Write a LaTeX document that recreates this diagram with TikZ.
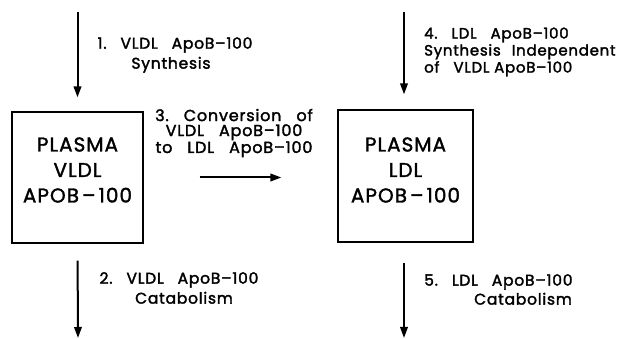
\documentclass[tikz,border=0pt]{standalone}
\usepackage{fontspec}
\setmainfont{Poppins}
\newfontfamily\labfont[LetterSpace=5,FakeBold=2]{Poppins}
\newfontfamily\boxfont[LetterSpace=5,FakeBold=1.6]{Poppins}
\newcommand\wg{\hspace{14pt}}
\newcommand\bdash{\hspace{3pt}–\hspace{3pt}}
\usetikzlibrary{arrows.meta}
\begin{document}
\begin{tikzpicture}[x=1pt,y=-1pt,
  arr/.style={line width=2pt,-{Triangle[length=11pt,width=7.5pt]}},
  box/.style={draw,line width=1.2pt,inner sep=0pt},
  boxtext/.style={align=center,inner sep=0pt,font=\boxfont\fontsize{20}{25.5}\selectfont},
  lab/.style={inner sep=0pt,font=\labfont\fontsize{15.5}{20}\selectfont}]
\useasboundingbox (0,0) rectangle (619,339);
% boxes
\node[box,minimum width=131pt,minimum height=131pt] (vb) at (77.5,177.5) {};
\node[boxtext] (vbt) at (77.5,170) {PLASMA\\VLDL\\APOB\bdash100};
\node[box,minimum width=135pt,minimum height=132pt] (lb) at (405.5,176) {};
\node[boxtext] (lbt) at (405.5,170) {PLASMA\\LDL\\APOB\bdash100};
% free ends
\coordinate (t1) at (77.5,12);
\coordinate (b2) at (78,338);
\coordinate (t4) at (404,12);
\coordinate (b5) at (404,338);
% arrows
\draw[arr,shorten >=14pt] (t1) -- (vb.north);
\draw[arr,shorten <=17pt] (vb.south) -- (b2);
\draw[arr,shorten >=15pt] (t4) -- (t4 |- lb.north);
\draw[arr,shorten <=20pt] (b5 |- lb.south) -- (b5);
\draw[arr,shorten <=56pt,shorten >=56pt] (vb.east) -- (vb.east -| lb.west);
% labels
\node[lab,align=center] (l1) at (175,55) {1.\wg VLDL\wg ApoB–100\\Synthesis\hspace*{8pt}};
\node[lab,align=center] (l2) at (179,288) {2.\wg VLDL\wg ApoB–100\\\hspace*{10pt}Catabolism};
\node[lab,align=center,font=\labfont\fontsize{16}{15}\selectfont] (l3) at (234,133) {3.\hspace{15pt}Conversion\hspace{15pt}of\\VLDL\hspace{15pt}ApoB–100\\to\hspace{15pt}LDL\hspace{15pt}ApoB–100};
\node[lab,align=left,anchor=west,font=\labfont\fontsize{15}{17}\selectfont] (l4) at (424,52) {4.\wg LDL\wg ApoB–100\\Synthesis\hspace{11pt}Independent\\of\wg VLDL ApoB–100};
\node[lab,align=left,anchor=west,font=\labfont\fontsize{15.5}{19}\selectfont] (l5) at (424,289.5) {5.\wg LDL\wg ApoB–100\\\hspace*{50pt}Catabolism};
\end{tikzpicture}
\end{document}
